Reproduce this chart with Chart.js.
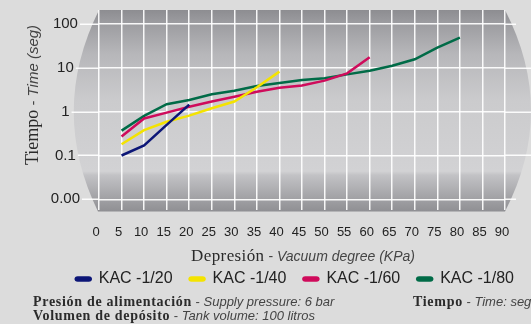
<!DOCTYPE html>
<html>
<head>
<meta charset="utf-8">
<script src="https://cdn.jsdelivr.net/npm/chart.js@4.4.0/dist/chart.umd.min.js"></script>
<style>
    html, body { margin: 0; padding: 0; background: #dcdcdc; }
    #wrap { width: 531px; height: 324px; }
</style>
</head>
<body>
<div id="wrap"><canvas id="vacuumChart" width="531" height="324"></canvas></div>
<script>
// Vacuum degree (KPa) for each measured point
const vacuum = [5, 10, 15, 20, 25, 30, 35, 40, 45, 50, 55, 60, 65, 70, 75, 80];

// Evacuation time (s) per tank model
const kac20 = [0.1, 0.17, 0.5, 1.45];
const kac40 = [0.18, 0.38, 0.59, 0.81, 1.2, 1.7, 3.6, 8.2];
const kac60 = [0.27, 0.7, 0.95, 1.3, 1.7, 2.2, 2.85, 3.5, 3.95, 5.1, 7.5, 17.5];
const kac80 = [0.37, 0.8, 1.48, 1.85, 2.5, 3, 3.85, 4.5, 5.3, 5.8, 7.1, 8.6, 11.2, 15.7, 29, 49];

const seriesNames = ['KAC -1/20', 'KAC -1/40', 'KAC -1/60', 'KAC -1/80'];
const seriesColors = ['#0c1677', '#f4e300', '#cf0b5b', '#006b47'];

// Y axis ticks (log scale) and their printed labels
const yTickValues = [0.01, 0.1, 1, 10, 100];
const yTickLabels = ['0.00', '0.1', '1', '10', '100'];

const SANS = '"Liberation Sans", Arial, sans-serif';
const SERIF = '"Liberation Serif", "Times New Roman", serif';

function drawMixed(ctx, parts, x, y, align) {
    let total = 0;
    parts.forEach(p => {
        ctx.font = p.font;
        ctx.letterSpacing = p.spacing || '0px';
        p.w = ctx.measureText(p.text).width;
        total += p.w;
    });
    let cx = align === 'center' ? x - total / 2 : x;
    ctx.textAlign = 'left';
    parts.forEach(p => {
        ctx.font = p.font;
        ctx.letterSpacing = p.spacing || '0px';
        ctx.fillStyle = p.color;
        ctx.fillText(p.text, cx, y);
        cx += p.w;
    });
    ctx.letterSpacing = '0px';
}

// Grey "tube" behind the plot
const tubeBackground = {
    id: 'tubeBackground',
    beforeDraw(chart) {
        const { ctx, chartArea: a } = chart;
        ctx.save();
        ctx.fillStyle = '#dcdcdc';
        ctx.fillRect(0, 0, chart.width, chart.height);

        const top = a.top;
        const bottom = a.bottom + 1.5;
        const mid = (top + bottom) / 2;
        ctx.beginPath();
        ctx.moveTo(a.left, top);
        ctx.lineTo(a.right, top);
        ctx.quadraticCurveTo(a.right + 52, mid, a.right, bottom);
        ctx.lineTo(a.left - 1, bottom);
        ctx.quadraticCurveTo(a.left - 50, mid, a.left, top);
        ctx.closePath();

        const g = ctx.createLinearGradient(0, top, 0, bottom);
        g.addColorStop(0, '#8d8d91');
        g.addColorStop(0.06, '#9b9b9f');
        g.addColorStop(0.22, '#b7b7ba');
        g.addColorStop(0.45, '#cbcbcd');
        g.addColorStop(0.8, '#d2d2d4');
        g.addColorStop(0.82, '#c2c2c5');
        g.addColorStop(1, '#8f8f93');
        ctx.fillStyle = g;
        ctx.fill();
        ctx.restore();
    }
};

// Horizontal grid lines run past the plot on both sides
const gridExtension = {
    id: 'gridExtension',
    beforeDatasetsDraw(chart) {
        const { ctx, chartArea: a } = chart;
        const y = chart.scales.y;
        ctx.save();
        ctx.font = '15px ' + SANS;
        const widths = yTickLabels.map(t => ctx.measureText(t).width);
        const center = a.left - 19 - Math.max(...widths) / 2;
        ctx.strokeStyle = 'rgba(255,255,255,0.92)';
        ctx.lineWidth = 1.5;
        yTickValues.forEach((v, i) => {
            const py = Math.round(y.getPixelForValue(v)) + 0.25;
            const rightEnd = (i === 0 || i === yTickValues.length - 1) ? a.right + 11 : chart.width;
            ctx.beginPath();
            ctx.moveTo(center + widths[i] / 2 + 2, py);
            ctx.lineTo(a.left, py);
            ctx.moveTo(a.right, py);
            ctx.lineTo(rightEnd, py);
            ctx.stroke();
        });
        ctx.restore();
    }
};

// Axis titles and notes with mixed Spanish / English fonts
const captions = {
    id: 'captions',
    afterDraw(chart) {
        const { ctx } = chart;
        ctx.save();
        ctx.textBaseline = 'alphabetic';

        drawMixed(ctx, [
            { text: 'Depresión', font: '17px ' + SERIF, color: '#2b2b2b', spacing: '0.4px' },
            { text: ' - ', font: '14px ' + SANS, color: '#444' },
            { text: 'Vacuum degree (KPa)', font: 'italic 14px ' + SANS, color: '#444' }
        ], 303, 261, 'center');

        ctx.save();
        ctx.translate(38, 95);
        ctx.rotate(-Math.PI / 2);
        drawMixed(ctx, [
            { text: 'Tiempo', font: '18px ' + SERIF, color: '#2b2b2b' },
            { text: ' - ', font: '15px ' + SANS, color: '#444' },
            { text: 'Time (seg)', font: 'italic 15px ' + SANS, color: '#444' }
        ], 0, 0, 'center');
        ctx.restore();

        const noteFont = 'bold 14px ' + SERIF;
        drawMixed(ctx, [
            { text: 'Presión de alimentación', font: noteFont, color: '#2b2b2b', spacing: '0.7px' },
            { text: ' - ', font: '13px ' + SANS, color: '#444' },
            { text: 'Supply pressure: 6 bar', font: 'italic 13px ' + SANS, color: '#444' }
        ], 33, 306, 'left');
        drawMixed(ctx, [
            { text: 'Volumen de depósito', font: noteFont, color: '#2b2b2b', spacing: '0.7px' },
            { text: ' - ', font: '13px ' + SANS, color: '#444' },
            { text: 'Tank volume: 100 litros', font: 'italic 13px ' + SANS, color: '#444' }
        ], 33, 320, 'left');
        drawMixed(ctx, [
            { text: 'Tiempo', font: noteFont, color: '#2b2b2b', spacing: '0.7px' },
            { text: ' - ', font: '13px ' + SANS, color: '#444' },
            { text: 'Time: seg', font: 'italic 13px ' + SANS, color: '#444' }
        ], 413, 306, 'left');
        ctx.restore();
    }
};

const seriesValues = [kac20, kac40, kac60, kac80];
const datasets = seriesValues.map((vals, i) => ({
    label: seriesNames[i],
    data: vals.map((v, j) => ({ x: vacuum[j], y: v })),
    borderColor: seriesColors[i],
    backgroundColor: seriesColors[i],
    borderWidth: 2.5,
    pointRadius: 0,
    tension: 0
}));

function noScalePadding(scale) {
    scale.paddingTop = 0;
    scale.paddingBottom = 0;
    scale.paddingLeft = 0;
    scale.paddingRight = 0;
}

const ctx = document.getElementById('vacuumChart').getContext('2d');
new Chart(ctx, {
    type: 'line',
    data: { datasets },
    plugins: [tubeBackground, gridExtension, captions],
    options: {
        responsive: false,
        animation: false,
        layout: { padding: { top: 10, left: 0, right: 0, bottom: 27 } },
        plugins: {
            tooltip: { enabled: false },
            legend: {
                position: 'bottom',
                align: 'end',
                labels: {
                    color: '#222',
                    font: { family: SANS, size: 16 },
                    boxWidth: 15,
                    boxHeight: 3,
                    useBorderRadius: true,
                    borderRadius: 2,
                    padding: 17
                }
            }
        },
        scales: {
            x: {
                type: 'linear',
                min: 0,
                max: 90,
                border: { display: false },
                grid: { color: 'rgba(255,255,255,0.92)', lineWidth: 1.5, drawTicks: false },
                ticks: {
                    stepSize: 5,
                    autoSkip: false,
                    maxRotation: 0,
                    padding: 15,
                    labelOffset: -3,
                    color: '#222',
                    font: { family: SANS, size: 13 }
                },
                afterFit(scale) {
                    noScalePadding(scale);
                    scale.height = 44;
                }
            },
            y: {
                type: 'logarithmic',
                position: 'left',
                min: 0.0057,
                max: 209,
                border: { display: false },
                grid: { color: 'rgba(255,255,255,0.92)', lineWidth: 1.5, drawTicks: false },
                afterBuildTicks(scale) {
                    scale.ticks = yTickValues.map(v => ({ value: v }));
                },
                ticks: {
                    crossAlign: 'center',
                    padding: 19,
                    color: '#222',
                    font: { family: SANS, size: 15 },
                    callback: (value, index) => yTickLabels[index]
                },
                afterFit(scale) {
                    noScalePadding(scale);
                    scale.width = 99;
                }
            },
            // empty axis reserving room for the right end of the tube
            yRight: {
                type: 'linear',
                position: 'right',
                display: true,
                border: { display: false },
                grid: { display: false, drawTicks: false },
                ticks: { display: false },
                afterFit(scale) {
                    noScalePadding(scale);
                    scale.width = 26;
                }
            }
        }
    }
});
</script>
</body>
</html>
